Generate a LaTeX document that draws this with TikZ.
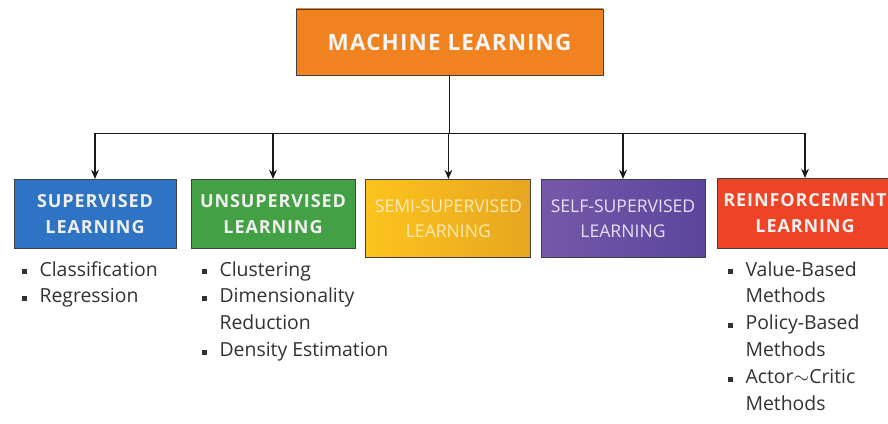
\documentclass[tikz,border=0pt]{standalone}
\usepackage{fontspec}
\setmainfont{Open Sans}
\newfontfamily\capsfont[LetterSpace=5]{Open Sans}
\usepackage{tikz}
\usetikzlibrary{arrows.meta,positioning}
\usepackage{xcolor}
\definecolor{mlorange}{RGB}{241,130,32}
\definecolor{mlorangelt}{RGB}{249,163,42}
\definecolor{supblue}{RGB}{47,116,196}
\definecolor{unsgreen}{RGB}{68,160,68}
\definecolor{semiyel}{RGB}{252,195,30}
\definecolor{semiyeldk}{RGB}{232,165,32}
\definecolor{selfpurp}{RGB}{118,88,168}
\definecolor{selfpurpdk}{RGB}{90,70,158}
\definecolor{reinred}{RGB}{238,67,36}
\definecolor{listgray}{RGB}{50,50,50}
\definecolor{semitext}{RGB}{253,236,178}
\definecolor{selftext}{RGB}{230,224,245}
\newcommand{\sqbullet}{\textcolor{listgray}{\rule[0.2ex]{3.3pt}{3.3pt}}}

\begin{document}
\begin{tikzpicture}[
    root/.style={draw=black!75, line width=0.7pt, font=\capsfont\bfseries\fontsize{16}{19}\selectfont, text=white!96!black,
      left color=mlorange, middle color=mlorangelt, right color=mlorange,
      minimum width=7.68cm, minimum height=1.65cm, align=center},
    branch/.style={draw=black!75, line width=0.7pt, anchor=north, text=white!94!black, inner xsep=2pt,
      font=\capsfont\bfseries\fontsize{12.8}{18.5}\selectfont, align=center, minimum height=1.725cm},
    lightbranch/.style={branch, font=\fontsize{12.5}{17.5}\selectfont, minimum width=4.1cm, minimum height=1.95cm},
    items/.style={anchor=base west, inner sep=0pt, text=listgray, font=\fontsize{13.8}{19.2}\selectfont},
    link/.style={draw=black!90, line width=1.1pt, -{Stealth[length=6.5pt,width=5.5pt]}}
  ]
  \fill[white] (0,0) rectangle (22.2,-10.6);
  \useasboundingbox (0,0) rectangle (22.2,-10.6);

  % Root
  \node[root] (ml) at (11.24,-1.05) {MACHINE LEARNING};

  % Branches
  \node[branch, fill=supblue, minimum width=4.05cm] (sup) at (2.375,-4.475) {SUPERVISED\\LEARNING};
  \node[branch, fill=unsgreen, minimum width=4.1cm] (unsup) at (6.825,-4.475) {UNSUPERVISED\\LEARNING};
  \node[lightbranch, left color=semiyel, right color=semiyeldk, text=semitext,
    minimum width=4.125cm] (semi) at (11.21,-4.475) {SEMI-SUPERVISED\\LEARNING};
  \node[lightbranch, left color=selfpurp, right color=selfpurpdk, text=selftext] (self) at (15.575,-4.475) {SELF-SUPERVISED\\LEARNING};
  \node[branch, fill=reinred, minimum width=4.4cm, minimum height=1.75cm] (reinf) at (20.125,-4.45) {REINFORCEMENT\\LEARNING};

  % Lists
  \node[items] (suplist) at (0.55,-6.9) {\begin{tabular}[t]{@{}l@{\hspace{9pt}}l@{}}
    \sqbullet & Classification\\
    \sqbullet & Regression
  \end{tabular}};
  \node[items] (unsuplist) at (5.05,-6.9) {\begin{tabular}[t]{@{}l@{\hspace{9pt}}l@{}}
    \sqbullet & Clustering\\
    \sqbullet & Dimensionality\\
              & Reduction\\
    \sqbullet & Density Estimation
  \end{tabular}};
  \node[items] (reinflist) at (18.2,-6.9) {\begin{tabular}[t]{@{}l@{\hspace{9pt}}l@{}}
    \sqbullet & Value-Based\\
              & Methods\\
    \sqbullet & Policy-Based\\
              & Methods\\
    \sqbullet & Actor$\sim$Critic\\
              & Methods
  \end{tabular}};

  % Tree
  \foreach \b in {sup,unsup,semi,self,reinf}
    \draw[link] (ml.south) -- ++(0,-1.45) -| (\b.north);
\end{tikzpicture}
\end{document}
